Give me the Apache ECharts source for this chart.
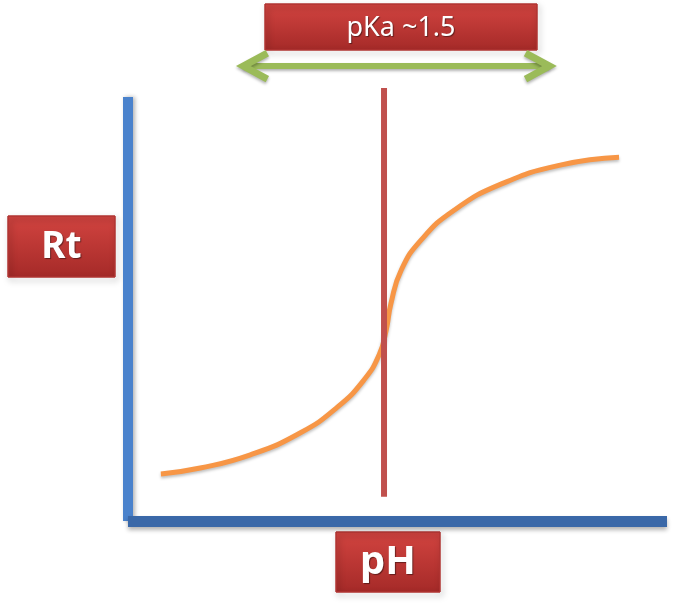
<!DOCTYPE html>
<html><head><meta charset="utf-8">
<script src="https://cdn.jsdelivr.net/npm/echarts@6/dist/echarts.min.js"></script>
<style>html,body{margin:0;padding:0;background:#fff}#c{width:680px;height:606px}</style>
</head><body><div id="c"></div>
<script>
// Schematic curve (arbitrary units 0..10)
var curveX = [0.61, 1.34, 2.27, 3.20, 3.89, 4.38, 4.66, 4.79, 4.88, 5.07, 5.44, 6.05, 6.93, 8.04, 9.11];
var curveY = [1.11, 1.25, 1.56, 2.08, 2.69, 3.33, 3.92, 4.50, 5.14, 5.92, 6.63, 7.33, 7.95, 8.40, 8.58];
var pkaX = 4.75;
var pkaLineY = [0.57, 10.21];
var arrowY = 10.73;
var arrowX = [2.14, 7.82];
var labels = {x: 'pH', y: 'Rt', pka: 'pKa ~1.5'};

var chart = echarts.init(document.getElementById('c'));
var redGrad = new echarts.graphic.LinearGradient(0, 0, 0, 1, [
  {offset: 0, color: '#d24440'}, {offset: 1, color: '#a52a28'}]);
function box(x, y, w, h, text, font) {
  return {type: 'group', x: x, y: y, children: [
    {type: 'rect', shape: {x: 0, y: 0, width: w, height: h},
     style: {fill: redGrad, stroke: '#b03432', lineWidth: 1, shadowBlur: 6, shadowOffsetX: 2, shadowOffsetY: 3, shadowColor: 'rgba(0,0,0,0.35)'}},
    {type: 'text', x: w / 2, y: h / 2 + 1, style: {text: text, fill: '#fff', font: font, align: 'center', verticalAlign: 'middle',
      textShadowColor: 'rgba(0,0,0,0.45)', textShadowOffsetX: 1, textShadowOffsetY: 1, textShadowBlur: 1}}
  ]};
}
var option = {
  animation: false,
  grid: {left: 128, right: 13, top: 97, bottom: 85},
  xAxis: {type: 'value', min: 0, max: 10, splitLine: {show: false}, axisTick: {show: false}, axisLabel: {show: false},
    axisLine: {show: true, lineStyle: {color: '#3a68a8', width: 11, cap: 'butt', shadowColor: 'rgba(0,0,0,0.3)', shadowBlur: 4, shadowOffsetY: 3}}},
  yAxis: {type: 'value', min: 0, max: 10, splitLine: {show: false}, axisTick: {show: false}, axisLabel: {show: false},
    axisLine: {show: true, lineStyle: {color: '#4a82cc', width: 10, cap: 'butt', shadowColor: 'rgba(0,0,0,0.3)', shadowBlur: 4, shadowOffsetX: 2}}},
  series: [
    {type: 'line', smooth: 0.5, symbol: 'none', data: curveX.map(function (x, i) { return [x, curveY[i]]; }),
     lineStyle: {color: '#f79646', width: 5, cap: 'butt', shadowColor: 'rgba(0,0,0,0.25)', shadowBlur: 3, shadowOffsetY: 2}, z: 3},
    {type: 'line', symbol: 'none', clip: false, data: [[pkaX, pkaLineY[0]], [pkaX, pkaLineY[1]]],
     lineStyle: {color: '#c0504d', width: 6, cap: 'butt'}, z: 4},
    {type: 'line', clip: false, symbol: 'none', data: [[arrowX[0], arrowY], [arrowX[1], arrowY]],
     lineStyle: {color: '#9bbb59', width: 6, shadowColor: 'rgba(0,0,0,0.3)', shadowBlur: 3, shadowOffsetY: 2}, z: 4}
  ],
  graphic: [
    box(8, 216, 107, 61, labels.y, 'bold 37px "Noto Sans"'),
    box(336, 532, 104, 60, labels.x, 'bold 40px "Noto Sans"'),
    box(265, 4, 272, 46, labels.pka, '27px "Noto Sans"')
  ]
};
chart.setOption(option);
// arrow heads at the ends of the green arrow line, placed through the scales
var pL = chart.convertToPixel({gridIndex: 0}, [arrowX[0], arrowY]);
var pR = chart.convertToPixel({gridIndex: 0}, [arrowX[1], arrowY]);
function head(p, dir) {
  return {type: 'polyline', shape: {points: [[p[0] + dir * 24, p[1] - 13], [p[0], p[1]], [p[0] + dir * 24, p[1] + 13]]},
    style: {stroke: '#9bbb59', lineWidth: 7, fill: null, lineJoin: 'miter', lineCap: 'butt', shadowColor: 'rgba(0,0,0,0.3)', shadowBlur: 3, shadowOffsetY: 2}, z: 5};
}
option.graphic.push(head(pL, 1), head(pR, -1));
chart.setOption({graphic: option.graphic});
</script></body></html>
